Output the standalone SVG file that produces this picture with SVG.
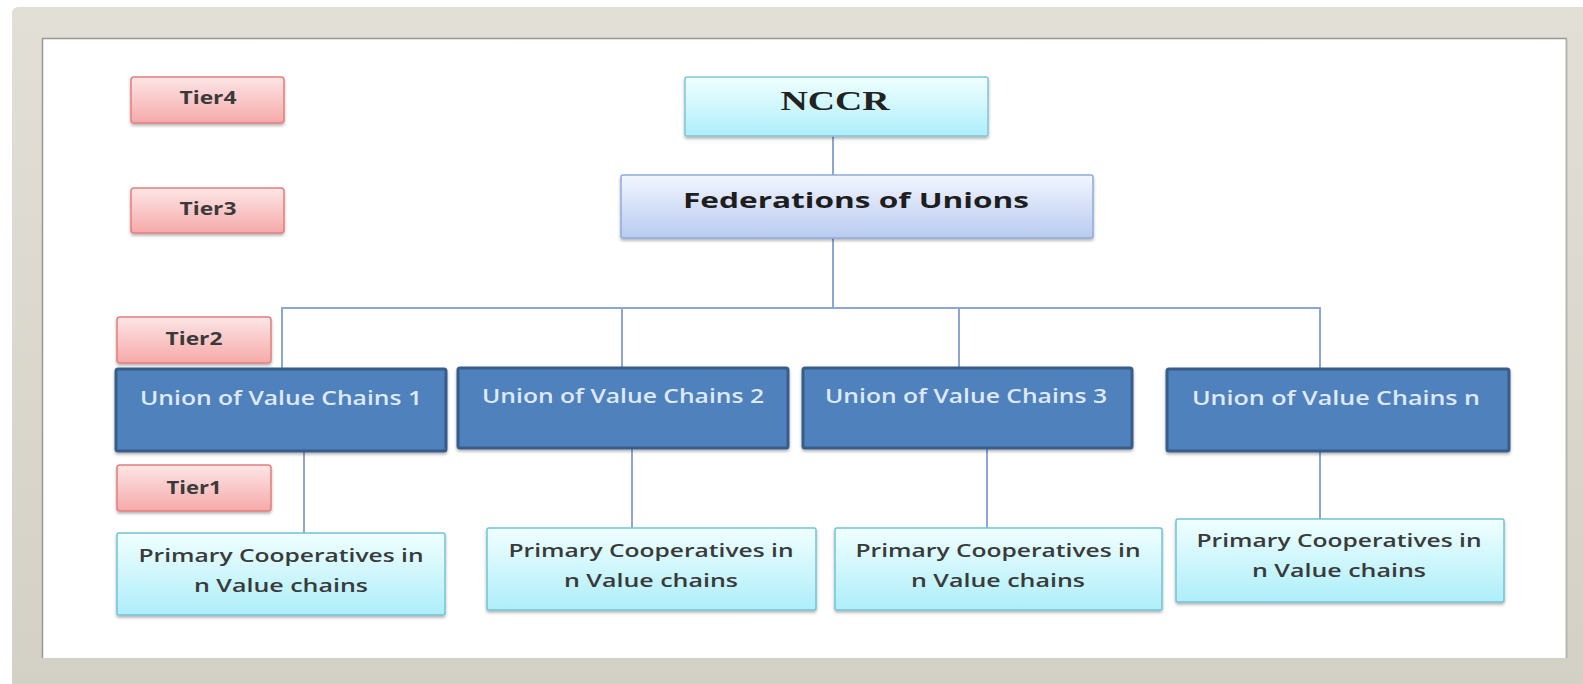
<svg xmlns="http://www.w3.org/2000/svg" width="1583" height="684" viewBox="0 0 1583 684">
<defs>
<linearGradient id="gPink" x1="0" y1="0" x2="0" y2="1"><stop offset="0" stop-color="#fde6e6"/><stop offset="1" stop-color="#f6a9a9"/></linearGradient>
<linearGradient id="gCyan" x1="0" y1="0" x2="0" y2="1"><stop offset="0" stop-color="#f0ffff"/><stop offset="1" stop-color="#aeeefa"/></linearGradient>
<linearGradient id="gFed" x1="0" y1="0" x2="0" y2="1"><stop offset="0" stop-color="#f2f6ff"/><stop offset="1" stop-color="#b9cbf0"/></linearGradient>
<linearGradient id="gFrame" x1="0" y1="0" x2="0" y2="1"><stop offset="0" stop-color="#e2e0d6"/><stop offset="1" stop-color="#d3d0c6"/></linearGradient>
<filter id="sh" x="-5%" y="-10%" width="110%" height="130%"><feDropShadow dx="0" dy="2" stdDeviation="1.5" flood-color="#000" flood-opacity="0.3"/></filter>
</defs>
<style>
.tier{fill:url(#gPink);stroke:#e27f7f;stroke-width:1.5}
.tt{font-family:"Open Sans","Noto Sans",sans-serif;font-weight:bold;font-size:18px;fill:#3a3a3a;text-anchor:middle}
.union{fill:#4f81bd;stroke:#385d8a;stroke-width:3}
.ut{font-family:"Open Sans","Noto Sans",sans-serif;font-weight:600;font-size:19px;fill:#dfe9f6;text-anchor:middle}
.prim{fill:url(#gCyan);stroke:#72c3d8;stroke-width:1.5}
.pt{font-family:"Open Sans","Noto Sans",sans-serif;font-weight:600;font-size:18.5px;fill:#3a3a3a;text-anchor:middle}
.conn{stroke:#8ea6d6;stroke-width:2;fill:none}
</style>
<rect width="1583" height="684" fill="#ffffff"/>
<rect x="12" y="7" width="1580" height="690" rx="6" fill="url(#gFrame)"/>
<rect x="42" y="38" width="1525" height="620" fill="#ffffff"/>
<path d="M42.5 658 V38.5 H1567" stroke="#9a9890" stroke-width="1.5" fill="none"/>
<path d="M1566.5 39 V658" stroke="#b8b6ae" stroke-width="2" fill="none"/>

<g id="connectors" class="conn">
<line x1="833" y1="136" x2="833" y2="175"/>
<line x1="833" y1="238" x2="833" y2="308"/>
<polyline points="282,368 282,308 1320,308 1320,368"/>
<line x1="622" y1="308" x2="622" y2="367"/>
<line x1="959" y1="308" x2="959" y2="367"/>
<line x1="304" y1="452" x2="304" y2="533"/>
<line x1="632" y1="449" x2="632" y2="528"/>
<line x1="987" y1="449" x2="987" y2="528"/>
<line x1="1320" y1="452" x2="1320" y2="519"/>
</g>

<g id="tier4"><rect class="tier" x="131" y="77" width="153" height="46" rx="3" filter="url(#sh)"/><text class="tt" x="208" y="104" textLength="57" lengthAdjust="spacingAndGlyphs">Tier4</text></g>
<g id="tier3"><rect class="tier" x="131" y="188" width="153" height="45" rx="3" filter="url(#sh)"/><text class="tt" x="208" y="215" textLength="57" lengthAdjust="spacingAndGlyphs">Tier3</text></g>
<g id="tier2"><rect class="tier" x="117" y="317" width="154" height="46" rx="3" filter="url(#sh)"/><text class="tt" x="194" y="345" textLength="57" lengthAdjust="spacingAndGlyphs">Tier2</text></g>
<g id="tier1"><rect class="tier" x="117" y="465" width="154" height="46" rx="3" filter="url(#sh)"/><text class="tt" x="194" y="494" textLength="55" lengthAdjust="spacingAndGlyphs">Tier1</text></g>

<g id="nccr"><rect x="685" y="77" width="303" height="59" rx="2" fill="url(#gCyan)" stroke="#80c6d8" stroke-width="1.5" filter="url(#sh)"/><text x="835" y="110" font-family="'Liberation Serif','Times New Roman',serif" font-weight="bold" font-size="27px" fill="#222" text-anchor="middle" textLength="109" lengthAdjust="spacingAndGlyphs">NCCR</text></g>
<g id="federations"><rect x="621" y="175" width="472" height="63" rx="2" fill="url(#gFed)" stroke="#8eaadc" stroke-width="1.5" filter="url(#sh)"/><text x="856" y="208" font-family="'Open Sans','Noto Sans',sans-serif" font-weight="bold" font-size="22px" fill="#1e1e1e" text-anchor="middle" textLength="346" lengthAdjust="spacingAndGlyphs">Federations of Unions</text></g>

<g id="union1"><rect class="union" x="116" y="369" width="330" height="82" rx="2" filter="url(#sh)"/><text class="ut" x="281" y="405" textLength="282" lengthAdjust="spacingAndGlyphs">Union of Value Chains 1</text></g>
<g id="union2"><rect class="union" x="458" y="368" width="330" height="80" rx="2" filter="url(#sh)"/><text class="ut" x="623" y="403" textLength="282" lengthAdjust="spacingAndGlyphs">Union of Value Chains 2</text></g>
<g id="union3"><rect class="union" x="803" y="368" width="329" height="80" rx="2" filter="url(#sh)"/><text class="ut" x="966" y="403" textLength="282" lengthAdjust="spacingAndGlyphs">Union of Value Chains 3</text></g>
<g id="unionn"><rect class="union" x="1167" y="369" width="342" height="82" rx="2" filter="url(#sh)"/><text class="ut" x="1336" y="405" textLength="288" lengthAdjust="spacingAndGlyphs">Union of Value Chains n</text></g>

<g id="primary1"><rect class="prim" x="117" y="533" width="328" height="82" rx="2" filter="url(#sh)"/><text class="pt" x="281" y="562" textLength="285" lengthAdjust="spacingAndGlyphs">Primary Cooperatives in</text><text class="pt" x="281" y="592" textLength="174" lengthAdjust="spacingAndGlyphs">n Value chains</text></g>
<g id="primary2"><rect class="prim" x="487" y="528" width="329" height="82" rx="2" filter="url(#sh)"/><text class="pt" x="651" y="557" textLength="285" lengthAdjust="spacingAndGlyphs">Primary Cooperatives in</text><text class="pt" x="651" y="587" textLength="174" lengthAdjust="spacingAndGlyphs">n Value chains</text></g>
<g id="primary3"><rect class="prim" x="835" y="528" width="327" height="82" rx="2" filter="url(#sh)"/><text class="pt" x="998" y="557" textLength="285" lengthAdjust="spacingAndGlyphs">Primary Cooperatives in</text><text class="pt" x="998" y="587" textLength="174" lengthAdjust="spacingAndGlyphs">n Value chains</text></g>
<g id="primaryn"><rect class="prim" x="1176" y="519" width="328" height="83" rx="2" filter="url(#sh)"/><text class="pt" x="1339" y="547" textLength="285" lengthAdjust="spacingAndGlyphs">Primary Cooperatives in</text><text class="pt" x="1339" y="577" textLength="174" lengthAdjust="spacingAndGlyphs">n Value chains</text></g>
</svg>
